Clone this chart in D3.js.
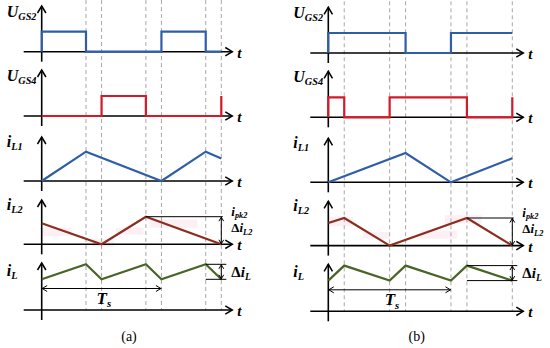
<!doctype html>
<html>
<head>
<meta charset="utf-8">
<script src="https://d3js.org/d3.v7.min.js"></script>
<style>
  body { margin: 0; background: #fff; }
  svg { display: block; }
  .lbl { font-family: "Liberation Serif", "DejaVu Serif", serif; font-weight: bold; font-style: italic; }
  .cap { font-family: "Liberation Serif", serif; font-size: 14px; }
</style>
</head>
<body>
<svg width="550" height="348"></svg>
<script>
// switching instants, in units of Ts
var dashA = [0.37, 0.5, 0.87, 1.0, 1.37, 1.5];
var dashB = [0.13, 0.5, 0.63, 1.0, 1.13, 1.5];

// gate signals (0 = low, 1 = high)
var ugs2A = [[0,0],[0,1],[0.37,1],[0.37,0],[1.0,0],[1.0,1],[1.37,1],[1.37,0],[1.5,0]];
var ugs4A = [[0,0],[0.5,0],[0.5,1],[0.87,1],[0.87,0],[1.5,0],[1.5,1]];
var ugs2B = [[0,0],[0,1],[0.63,1],[0.63,0],[1.0,0],[1.0,1],[1.5,1]];
var ugs4B = [[0,0],[0,1],[0.13,1],[0.13,0],[0.5,0],[0.5,1],[1.13,1],[1.13,0],[1.5,0],[1.5,1]];

// inductor currents (normalised)
var iL1A = [[0,0],[0.37,1],[1.0,0],[1.37,1],[1.5,0.77]];
var iL2A = [[0,0.76],[0.5,0],[0.87,1],[1.5,0]];
var iLA  = [[0,0],[0.37,1],[0.5,0],[0.87,1],[1.0,0],[1.37,1],[1.5,0]];
var iL1B = [[0,0],[0.63,1],[1.0,0],[1.5,0.82]];
var iL2B = [[0,0.82],[0.13,1],[0.5,0],[1.13,1],[1.5,0]];
var iLB  = [[0,0],[0.13,1],[0.5,0],[0.63,1],[1.0,0],[1.13,1],[1.5,0]];

// faint pink blotches behind iL2 (time span, value span)
var pinkA = [[0,0.25,0.6,0.3],[0.42,0.6,0.2,-0.1],[0.62,0.85,0.6,0.35],[0.9,1.3,0.9,0.6]];
var pinkB = [[0,0.2,1.05,0.7],[0.28,0.5,0.5,0.25],[0.75,1.05,0.55,0.25],[0.95,1.25,1.1,0.8]];

var svg = d3.select("svg");
var blue = "#2f5ea9", red = "#d11a2a", brown = "#8c2e1f", green = "#4a6426";

function arrowHead(g, x, y, dir, s, w) {
  // open chevron arrow head, dir: "up","down","right","left"
  var p;
  if (dir == "up") p = [[x - s*0.6, y + s], [x, y], [x + s*0.6, y + s]];
  if (dir == "down") p = [[x - s*0.6, y - s], [x, y], [x + s*0.6, y - s]];
  if (dir == "right") p = [[x - s, y - s*0.6], [x, y], [x - s, y + s*0.6]];
  if (dir == "left") p = [[x + s, y - s*0.6], [x, y], [x + s, y + s*0.6]];
  g.append("path").attr("d", d3.line()(p)).attr("fill", "none")
    .attr("stroke", "#000").attr("stroke-width", w || 1.5);
}

function subLabel(g, x, y, main, sub, size, pre) {
  var t = g.append("text").attr("class", "lbl").attr("x", x).attr("y", y)
    .attr("font-size", size);
  if (pre) t.append("tspan").attr("font-style", "normal").text(pre);
  t.append("tspan").text(main);
  t.append("tspan").attr("font-size", size * 0.64).attr("dy", size * 0.2).text(sub);
}

function drawPanel(p) {
  var g = svg.append("g").attr("transform", "translate(0," + p.dy + ")");
  var x = d3.scaleLinear().domain([0, 1.5]).range([p.x0, p.x1]);
  var xa0 = p.x0 - 18, xa1 = p.x1 + 11;

  // pink blotches
  var yPk = d3.scaleLinear().domain([0, 1]).range([244.3, 216.7]);
  g.selectAll(".pink").data(p.pink).enter().append("rect")
    .attr("x", d => x(d[0])).attr("width", d => x(d[1]) - x(d[0]))
    .attr("y", d => yPk(d[2])).attr("height", d => yPk(d[3]) - yPk(d[2]))
    .attr("fill", "#fdf0f5");

  // dashed switching lines
  g.selectAll(".dash").data(p.dash).enter().append("line")
    .attr("x1", d => x(d)).attr("x2", d => x(d))
    .attr("y1", 0).attr("y2", 310)
    .attr("stroke", "#a8a8a8").attr("stroke-width", 1).attr("stroke-dasharray", "4,3");

  var rows = [
    { base: 51.7, top: 31.7, tip: 6, data: p.ugs2, col: blue, main: "U", sub: "GS2", ly: 17 },
    { base: 116, top: 96, tip: 70, data: p.ugs4, col: red, main: "U", sub: "GS4", ly: 81 },
    { base: 181, top: 151.7, tip: 137, data: p.iL1, col: blue, main: "i", sub: "L1", ly: 147 },
    { base: 244.3, top: 216.7, tip: 200, data: p.iL2, col: brown, main: "i", sub: "L2", ly: 210 },
    { base: 279.3, top: 264.3, tip: 263, data: p.iL, col: green, main: "i", sub: "L", ly: 276, axis: 310 }
  ];

  rows.forEach(function(r) {
    var y = d3.scaleLinear().domain([0, 1]).range([r.base, r.top]);
    var ax = r.axis || r.base;
    // horizontal t axis
    g.append("line").attr("x1", xa0).attr("x2", xa1).attr("y1", ax).attr("y2", ax)
      .attr("stroke", "#000").attr("stroke-width", 1.6);
    arrowHead(g, xa1, ax, "right", 7);
    g.append("text").attr("class", "lbl").attr("x", xa1 + 5).attr("y", ax + 6)
      .attr("font-size", 15).text("t");
    // vertical axis
    g.append("line").attr("x1", p.x0).attr("x2", p.x0).attr("y1", r.tip).attr("y2", ax + 10)
      .attr("stroke", "#000").attr("stroke-width", 1.6);
    arrowHead(g, p.x0, r.tip, "up", 7);
    subLabel(g, p.x0 - 35, r.ly, r.main, r.sub, 16);
    // waveform
    g.append("path").datum(r.data)
      .attr("d", d3.line().x(d => x(d[0])).y(d => y(d[1])))
      .attr("fill", "none").attr("stroke", r.col).attr("stroke-width", 2.2)
      .attr("stroke-linejoin", "miter");
  });

  // ipk2 / delta iL2 annotation
  var yL2 = d3.scaleLinear().domain([0, 1]).range([244.3, 216.7]);
  var xr = x(1.5), xp = x(p.peak2);
  g.append("line").attr("x1", xp).attr("x2", xr + 1.5).attr("y1", yL2(1)).attr("y2", yL2(1))
    .attr("stroke", "#000").attr("stroke-width", 1);
  g.append("line").attr("x1", xr).attr("x2", xr).attr("y1", yL2(1)).attr("y2", yL2(0))
    .attr("stroke", "#000").attr("stroke-width", 1);
  arrowHead(g, xr, yL2(1) + 0.5, "up", 4, 1);
  arrowHead(g, xr, yL2(0) - 0.5, "down", 4, 1);
  subLabel(g, xr + 10, 215.5, "i", "pk2", 13);
  subLabel(g, xr + 10, 232, "i", "L2", 13, "\u0394");

  // delta iL annotation
  var yL = d3.scaleLinear().domain([0, 1]).range([279.3, 264.3]);
  var xpk = x(p.peakL);
  [0, 1].forEach(function(v) {
    g.append("line").attr("x1", xpk).attr("x2", xr + 5).attr("y1", yL(v)).attr("y2", yL(v))
      .attr("stroke", "#000").attr("stroke-width", 1);
  });
  g.append("line").attr("x1", xr).attr("x2", xr).attr("y1", yL(1)).attr("y2", yL(0))
    .attr("stroke", "#000").attr("stroke-width", 1);
  arrowHead(g, xr, yL(1) + 0.5, "up", 4, 1);
  arrowHead(g, xr, yL(0) - 0.5, "down", 4, 1);
  subLabel(g, xr + 10, 277, "i", "L", 15, "\u0394");

  // Ts period arrow
  var yTs = 288.5;
  g.append("line").attr("x1", x(0)).attr("x2", x(1)).attr("y1", yTs).attr("y2", yTs)
    .attr("stroke", "#000").attr("stroke-width", 1);
  arrowHead(g, x(0) + 0.5, yTs, "left", 5, 1);
  arrowHead(g, x(1) - 0.5, yTs, "right", 5, 1);
  subLabel(g, x(0.5) - 5, 304, "T", "s", 17);

  // caption
  g.append("text").attr("class", "cap").attr("x", p.capX).attr("y", 341 - p.dy)
    .attr("text-anchor", "middle").text(p.cap);
}

drawPanel({ x0: 41.7, x1: 221.3, dy: 0, dash: dashA, pink: pinkA,
  ugs2: ugs2A, ugs4: ugs4A, iL1: iL1A, iL2: iL2A, iL: iLA,
  peak2: 0.87, peakL: 1.37, cap: "(a)", capX: 129 });
drawPanel({ x0: 328.3, x1: 512.3, dy: 1.3, dash: dashB, pink: pinkB,
  ugs2: ugs2B, ugs4: ugs4B, iL1: iL1B, iL2: iL2B, iL: iLB,
  peak2: 1.13, peakL: 1.13, cap: "(b)", capX: 416.7 });
</script>
</body>
</html>
